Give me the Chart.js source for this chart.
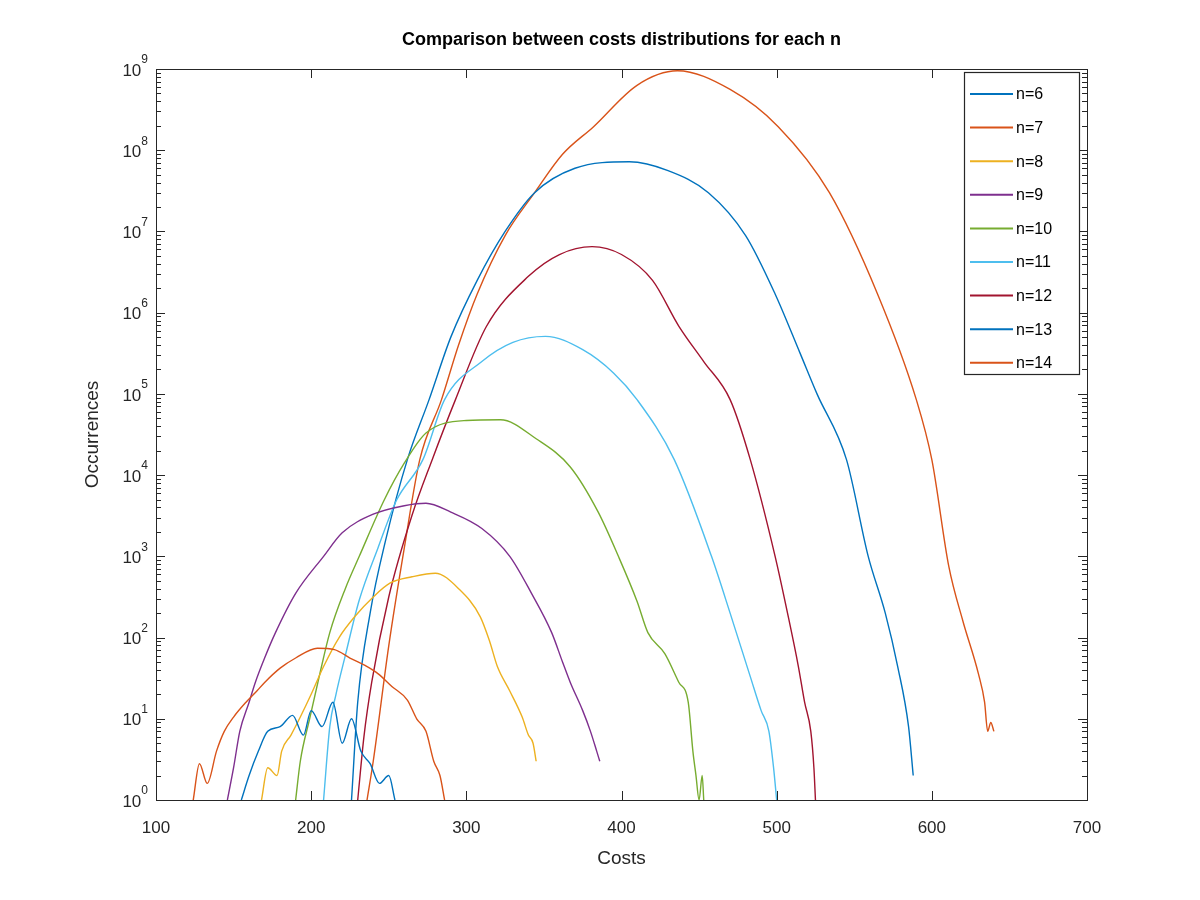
<!DOCTYPE html>
<html>
<head>
<meta charset="utf-8">
<script src="https://cdn.jsdelivr.net/npm/chart.js@4/dist/chart.umd.min.js"></script>
<style>
  html, body { margin: 0; padding: 0; background: #fff; }
  #wrap { width: 1200px; height: 900px; }
</style>
</head>
<body>
<div id="wrap"><canvas id="myChart" width="1200" height="900"></canvas></div>
<script>
'use strict';

// costs (x) and occurrences (y), one pair of arrays per n
const costs6 = [155, 160, 166, 172, 180, 188, 195, 200, 207, 214, 220, 226, 232, 238, 244, 250, 254];
const occ6 = [1, 2, 4, 7, 8, 11, 6.3, 12.6, 8, 16, 5, 10, 4, 2.8, 1.6, 2, 1];

const costs7 = [124, 128, 133, 139, 144, 150, 158, 165, 170, 180, 190, 204, 215, 225, 235, 243, 252, 262, 268, 274, 279, 283, 286];
const occ7 = [1, 2.8, 1.6, 4, 7, 10.5, 16, 22, 28, 42, 56, 74, 71, 56, 45, 36, 25, 17, 10, 7, 3, 2, 1];

const costs8 = [168, 172, 178, 181, 187, 193, 200, 208, 218, 228, 240, 251, 265, 280, 295, 309, 315, 320, 328, 336, 340, 343, 345];
const occ8 = [1, 2.5, 2, 4, 6.3, 10.5, 20, 44, 100, 180, 316, 470, 560, 620, 400, 180, 90, 44, 22, 10.5, 6.3, 5, 3];

const costs9 = [146, 150, 154, 160, 164, 170, 177, 190, 208, 220, 240, 260, 274, 290, 310, 328, 342, 355, 362, 367, 375, 380, 384, 386];
const occ9 = [1, 2.5, 7, 16, 28, 56, 115, 350, 1000, 1950, 3300, 4200, 4500, 3500, 2200, 1000, 350, 115, 50, 28, 12.6, 7, 4, 3];

const costs10 = [190, 193, 199, 205, 212, 222, 231, 247, 260, 274, 300, 322, 345, 367, 385, 398, 410, 417, 428, 437, 443, 446, 448, 450, 452, 453];
const occ10 = [1, 3, 10, 32, 115, 400, 1000, 4900, 14000, 33000, 47000, 48000, 28000, 12600, 3500, 1000, 280, 115, 63, 28, 16, 4, 2, 1, 2, 1];

const costs11 = [208, 212, 216, 222, 231, 243, 255, 272, 286, 310, 330, 351, 375, 395, 410, 434, 458, 470, 483, 490, 495, 498, 500];
const occ11 = [1, 8, 20, 60, 290, 1260, 4900, 15500, 85000, 2.5e5, 4.3e5, 5.1e5, 3.5e5, 1.8e5, 85000, 15500, 1000, 200, 33, 12.6, 7, 2.5, 1];

const costs12 = [230, 234, 239, 250, 265, 278, 293, 313, 340, 360, 381, 400, 420, 437, 453, 470, 483, 499, 507, 514, 518, 522, 524, 525];
const occ12 = [1, 6, 28, 316, 3200, 15500, 85000, 6.8e5, 2.8e6, 5.2e6, 6.5e6, 5.2e6, 2.5e6, 6.8e5, 2.5e5, 85000, 15500, 1000, 200, 44, 16, 7, 2.5, 1];

const costs13 = [226, 230, 238, 248, 262, 276, 290, 307, 325, 344, 370, 405, 430, 456, 480, 499, 515, 526, 545, 559, 570, 578, 585, 588];
const occ13 = [1, 16, 200, 1580, 15500, 85000, 5.0e5, 2.5e6, 1.0e7, 3.0e7, 6.0e7, 7.2e7, 5.6e7, 3.0e7, 8.9e6, 1.7e6, 3.2e5, 1.0e5, 15500, 1000, 200, 44, 8, 2];

const costs14 = [236, 240, 250, 260, 270, 284, 295, 307, 325, 344, 362, 382, 410, 436, 470, 501, 534, 565, 590, 600, 611, 620, 630, 634, 636, 638, 640];
const occ14 = [1, 3, 79, 1260, 15500, 85000, 4.0e5, 1.7e6, 8.9e6, 3.0e7, 8.9e7, 1.95e8, 6.3e8, 9.5e8, 5.6e8, 1.95e8, 3.0e7, 1.7e6, 85000, 15500, 740, 160, 36, 16, 7, 9, 7];

const seriesNames = ['n=6', 'n=7', 'n=8', 'n=9', 'n=10', 'n=11', 'n=12', 'n=13', 'n=14'];
const seriesX = [costs6, costs7, costs8, costs9, costs10, costs11, costs12, costs13, costs14];
const seriesY = [occ6, occ7, occ8, occ9, occ10, occ11, occ12, occ13, occ14];
const lineColors = ['#0072BD', '#D95319', '#EDB120', '#7E2F8E', '#77AC30', '#4DBEEE', '#A2142F', '#0072BD', '#D95319'];

const xTicks = [100, 200, 300, 400, 500, 600, 700];
const yExponents = [0, 1, 2, 3, 4, 5, 6, 7, 8, 9];

const FONT = '"Liberation Sans", Arial, sans-serif';

let datasets = seriesNames.map(function (name, i) {
    return {
        label: name,
        data: seriesX[i].map(function (x, j) { return { x: x, y: seriesY[i][j] }; }),
        borderColor: lineColors[i],
        backgroundColor: lineColors[i],
        borderWidth: 1.4,
        pointRadius: 0,
        cubicInterpolationMode: 'monotone',
        fill: false,
    };
});

// box, inward ticks, y labels, title and legend drawn the matlab way
const matlabFrame = {
    id: 'matlabFrame',
    afterDraw(chart) {
        const ctx = chart.ctx;
        const a = chart.chartArea;
        const xs = chart.scales.x;
        const ys = chart.scales.y;
        ctx.save();
        ctx.strokeStyle = '#262626';
        ctx.lineWidth = 1;
        ctx.strokeRect(a.left + 0.5, a.top + 0.5, a.right - a.left, a.bottom - a.top);
        ctx.beginPath();
        xTicks.forEach(function (v) {
            const px = Math.round(xs.getPixelForValue(v)) + 0.5;
            ctx.moveTo(px, a.bottom); ctx.lineTo(px, a.bottom - 9);
            ctx.moveTo(px, a.top); ctx.lineTo(px, a.top + 9);
        });
        yExponents.forEach(function (e) {
            for (let m = 1; m < 10; m++) {
                if (e === 9 && m > 1) break;
                const py = Math.round(ys.getPixelForValue(m * Math.pow(10, e))) + 0.5;
                const len = m === 1 ? 9 : 5;
                ctx.moveTo(a.left, py); ctx.lineTo(a.left + len, py);
                ctx.moveTo(a.right, py); ctx.lineTo(a.right - len, py);
            }
        });
        ctx.stroke();

        // y tick labels 10^e
        ctx.fillStyle = '#262626';
        ctx.textBaseline = 'middle';
        yExponents.forEach(function (e) {
            const py = ys.getPixelForValue(Math.pow(10, e));
            ctx.font = '12px ' + FONT;
            ctx.textAlign = 'left';
            const ew = ctx.measureText(String(e)).width;
            ctx.fillText(String(e), 148 - ew, py - 9);
            ctx.font = '17px ' + FONT;
            ctx.textAlign = 'right';
            ctx.fillText('10', 148 - ew, py + 2);
        });

        // y title
        ctx.save();
        ctx.translate(93, (a.top + a.bottom) / 2);
        ctx.rotate(-Math.PI / 2);
        ctx.textAlign = 'center';
        ctx.font = '19px ' + FONT;
        ctx.fillText('Occurrences', 0, 0);
        ctx.restore();

        // title
        ctx.fillStyle = '#000';
        ctx.font = 'bold 18px ' + FONT;
        ctx.textAlign = 'center';
        ctx.fillText('Comparison between costs distributions for each n', (a.left + a.right) / 2, 40);

        // legend
        const lx = 964, ly = 72, lw = 115, lh = 302;
        ctx.fillStyle = '#fff';
        ctx.fillRect(lx, ly, lw, lh);
        ctx.strokeStyle = '#262626';
        ctx.lineWidth = 1.2;
        ctx.strokeRect(lx + 0.5, ly + 0.5, lw, lh);
        ctx.font = '16px ' + FONT;
        ctx.textAlign = 'left';
        seriesNames.forEach(function (name, i) {
            const cy = 94 + i * 33.6;
            ctx.strokeStyle = lineColors[i];
            ctx.lineWidth = 2;
            ctx.beginPath();
            ctx.moveTo(970, cy); ctx.lineTo(1013, cy);
            ctx.stroke();
            ctx.fillStyle = '#000';
            ctx.fillText(name, 1016, cy + 1);
        });
        ctx.restore();
    }
};

let ctx = document.getElementById('myChart').getContext('2d');
let myChart = new Chart(ctx, {
    type: 'line',
    data: { datasets: datasets },
    plugins: [matlabFrame],
    options: {
        responsive: false,
        animation: false,
        layout: { padding: { top: 69, right: 113, left: 0, bottom: 0 } },
        plugins: { legend: { display: false }, tooltip: { enabled: false } },
        scales: {
            x: {
                type: 'linear',
                min: 100,
                max: 700,
                afterFit: function (s) { s.height = 100; },
                afterBuildTicks: function (s) { s.ticks = xTicks.map(function (v) { return { value: v }; }); },
                grid: { display: false, drawTicks: false },
                border: { display: false },
                ticks: { color: '#262626', font: { family: FONT, size: 17 }, padding: 18 },
                title: { display: true, text: 'Costs', color: '#262626', font: { family: FONT, size: 19 }, padding: { top: 6, bottom: 30 } },
            },
            y: {
                type: 'logarithmic',
                min: 1,
                max: 1e9,
                afterFit: function (s) { s.width = 156; },
                grid: { display: false, drawTicks: false },
                border: { display: false },
                ticks: { display: false },
            }
        }
    }
});
</script>
</body>
</html>
